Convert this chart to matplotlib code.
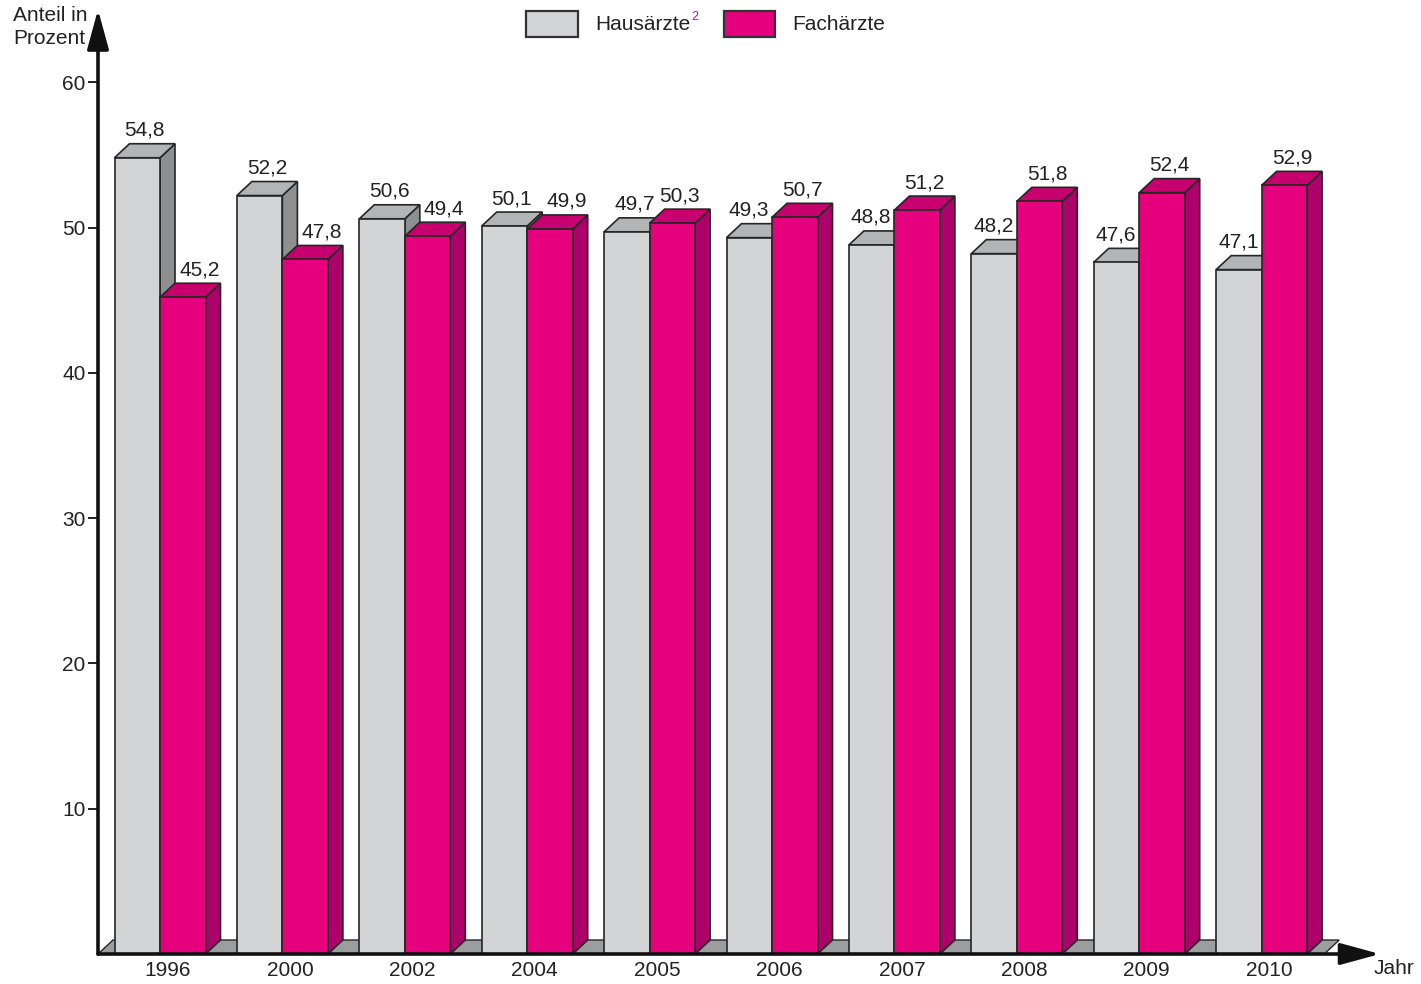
import matplotlib
matplotlib.use("Agg")
import matplotlib.pyplot as plt
from matplotlib.patches import Polygon, Rectangle

plt.rcParams['font.family'] = ['Liberation Sans', 'DejaVu Sans']

# ---- data ----
years = ['1996', '2000', '2002', '2004', '2005', '2006', '2007', '2008', '2009', '2010']
hausaerzte = [54.8, 52.2, 50.6, 50.1, 49.7, 49.3, 48.8, 48.2, 47.6, 47.1]
fachaerzte = [45.2, 47.8, 49.4, 49.9, 50.3, 50.7, 51.2, 51.8, 52.4, 52.9]
yticks = [10, 20, 30, 40, 50, 60]
series_names = ['Hausärzte', 'Fachärzte']

# ---- style ----
W_PX, H_PX = 1421, 984
DPI = 100
grey = dict(front='#d3d4d6', top='#b3b4b6', side='#8e8f91')
pink = dict(front='#e6007e', top='#c8006f', side='#ad006a')
edge = '#262626'
txt = '#222222'
FS = 15

fig = plt.figure(figsize=(W_PX / DPI, H_PX / DPI), dpi=DPI)

# pixel layout
x_axis_px = 98
x_arrow_px = 1380
zero_px = 954
px_per_unit = 14.53
group_px = 122.4
first_boundary_px = 160
ymax = 65
xmin = (x_axis_px - first_boundary_px) / group_px
xmax = (x_arrow_px - first_boundary_px) / group_px
top_px = zero_px - ymax * px_per_unit

ax = fig.add_axes([x_axis_px / W_PX, (H_PX - zero_px) / H_PX,
                   (x_arrow_px - x_axis_px) / W_PX, (zero_px - top_px) / H_PX])
ax.set_xlim(xmin, xmax)
ax.set_ylim(0, ymax)
for s in ax.spines.values():
    s.set_visible(False)

bw = 45.5 / group_px          # bar width (data units)
dx = 15 / group_px            # depth x
dy = 14 / px_per_unit         # depth y

# floor
floor_end = len(years) - 1 + bw + 0.14
floor = Polygon([(xmin, 0), (xmin + dx, dy), (floor_end + dx, dy), (floor_end, 0)],
                closed=True, facecolor='#9c9d9f', edgecolor=edge, lw=1.0, zorder=1)
ax.add_patch(floor)


def bar3d(x0, h, c):
    front = Rectangle((x0, 0), bw, h, facecolor=c['front'], edgecolor=edge, lw=1.2, zorder=2)
    top = Polygon([(x0, h), (x0 + dx, h + dy), (x0 + bw + dx, h + dy), (x0 + bw, h)],
                  closed=True, facecolor=c['top'], edgecolor=edge, lw=1.2, zorder=2)
    side = Polygon([(x0 + bw, 0), (x0 + bw + dx, dy), (x0 + bw + dx, h + dy), (x0 + bw, h)],
                   closed=True, facecolor=c['side'], edgecolor=edge, lw=1.2, zorder=2)
    for p in (side, top, front):
        ax.add_patch(p)


def fmt(v):
    return f"{v:.1f}".replace('.', ',')


label_off = 4 / px_per_unit
for i, (h1, h2) in enumerate(zip(hausaerzte, fachaerzte)):
    bar3d(i - bw, h1, grey)
    bar3d(i, h2, pink)
    s1 = s2 = 0.0
    if h1 > h2:
        s2 = 9 / group_px
    elif h2 - h1 > 1:
        s1 = -8 / group_px
    ax.text(i - bw / 2 + dx / 2 + s1, h1 + dy + label_off, fmt(h1), ha='center', va='bottom',
            fontsize=FS, color=txt, zorder=5)
    ax.text(i + bw / 2 + dx / 2 + s2, h2 + dy + label_off, fmt(h2), ha='center', va='bottom',
            fontsize=FS, color=txt, zorder=5)

# axes arrows
ax.annotate('', xy=(xmin, ymax), xytext=(xmin, 0), xycoords='data',
            arrowprops=dict(arrowstyle='-|>,head_length=1.1,head_width=0.3', lw=2.6,
                            color='#111111', mutation_scale=22, shrinkA=0, shrinkB=0),
            annotation_clip=False, zorder=6)
ax.annotate('', xy=(xmax, 0), xytext=(xmin, 0), xycoords='data',
            arrowprops=dict(arrowstyle='-|>,head_length=1.1,head_width=0.3', lw=2.6,
                            color='#111111', mutation_scale=22, shrinkA=0, shrinkB=0),
            annotation_clip=False, zorder=6)

ax.set_yticks(yticks)
ax.set_yticklabels([str(t) for t in yticks], fontsize=FS, color=txt)
ax.tick_params(axis='y', direction='out', length=7, width=1.3, color='#111111', pad=2)
ax.set_xticks([i + dx / 2 for i in range(len(years))])
ax.set_xticklabels(years, fontsize=FS, color=txt)
ax.tick_params(axis='x', length=0, pad=5)

# axis titles
fig.text(13 / W_PX, 1 - 6 / H_PX, 'Anteil in\nProzent', ha='left', va='top', fontsize=FS,
         color=txt, linespacing=1.25)
fig.text(1374 / W_PX, 1 - 968 / H_PX, 'Jahr', ha='left', va='center', fontsize=FS, color=txt)

# legend
def fig_rect(x0, y0, x1, y1, fc):
    r = Rectangle((x0 / W_PX, 1 - y1 / H_PX), (x1 - x0) / W_PX, (y1 - y0) / H_PX,
                  transform=fig.transFigure, facecolor=fc, edgecolor='#333333', lw=1.6)
    fig.add_artist(r)

fig_rect(526, 11, 578, 37, grey['front'])
fig_rect(724, 11, 775, 37, pink['front'])
t1 = fig.text(595 / W_PX, 1 - 25 / H_PX, series_names[0], ha='left', va='center',
              fontsize=FS, color=txt)
fig.text(792 / W_PX, 1 - 25 / H_PX, series_names[1], ha='left', va='center',
         fontsize=FS, color=txt)
fig.canvas.draw()
bb = t1.get_window_extent()
fig.text((bb.x1 + 1) / W_PX, 1 - 17 / H_PX, '2', ha='left', va='center', fontsize=9,
         color='#e6007e')

fig.savefig('out.png', dpi=DPI)
